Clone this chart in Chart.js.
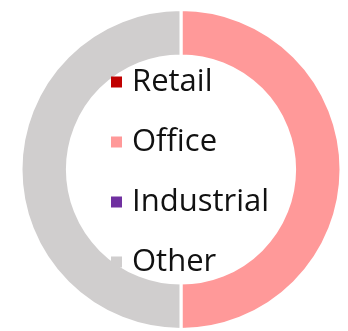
<!DOCTYPE html>
<html>
<head>
<meta charset="utf-8">
<script src="https://cdn.jsdelivr.net/npm/chart.js@4/dist/chart.umd.min.js"></script>
<style>
  html, body { margin: 0; padding: 0; background: #fff; }
  #wrap { width: 348px; height: 331px; position: relative; }
</style>
</head>
<body>
<div id="wrap"><canvas id="doughnut-chart"></canvas></div>
<script>
var labels = ["Retail", "Office", "Industrial", "Other"];
var shares = [0, 50, 0, 50];
var colours = ["#C00000", "#FF9999", "#7030A0", "#D0CECE"];

// legend drawn in the hole of the doughnut
var centreLegend = {
  id: "centreLegend",
  afterDraw: function(chart) {
    var ctx = chart.ctx;
    var arc = chart.getDatasetMeta(0).data[0];
    var cx = arc.x, cy = arc.y;
    var step = 60;
    var n = chart.data.labels.length;
    var top = cy + 2.5 - step * (n - 1) / 2;
    var bg = chart.data.datasets[0].backgroundColor;
    ctx.save();
    ctx.font = "31px 'Open Sans'";
    ctx.textBaseline = "alphabetic";
    ctx.textAlign = "left";
    for (var i = 0; i < n; i++) {
      var y = top + i * step;
      ctx.fillStyle = bg[i];
      ctx.fillRect(cx - 70, y - 5.5, 11, 11);
      ctx.fillStyle = "#111";
      ctx.fillText(chart.data.labels[i], cx - 49, y + 9);
    }
    ctx.restore();
  }
};

new Chart(document.getElementById("doughnut-chart"), {
  type: "doughnut",
  data: {
    labels: labels,
    datasets: [{
      data: shares,
      backgroundColor: colours,
      borderColor: "#fff",
      borderWidth: 3
    }]
  },
  options: {
    responsive: true,
    maintainAspectRatio: false,
    animation: false,
    cutout: "71%",
    layout: { padding: { top: 8, bottom: 0, left: 14, right: 0 } },
    plugins: {
      legend: { display: false },
      tooltip: { enabled: false }
    }
  },
  plugins: [centreLegend]
});
</script>
</body>
</html>
